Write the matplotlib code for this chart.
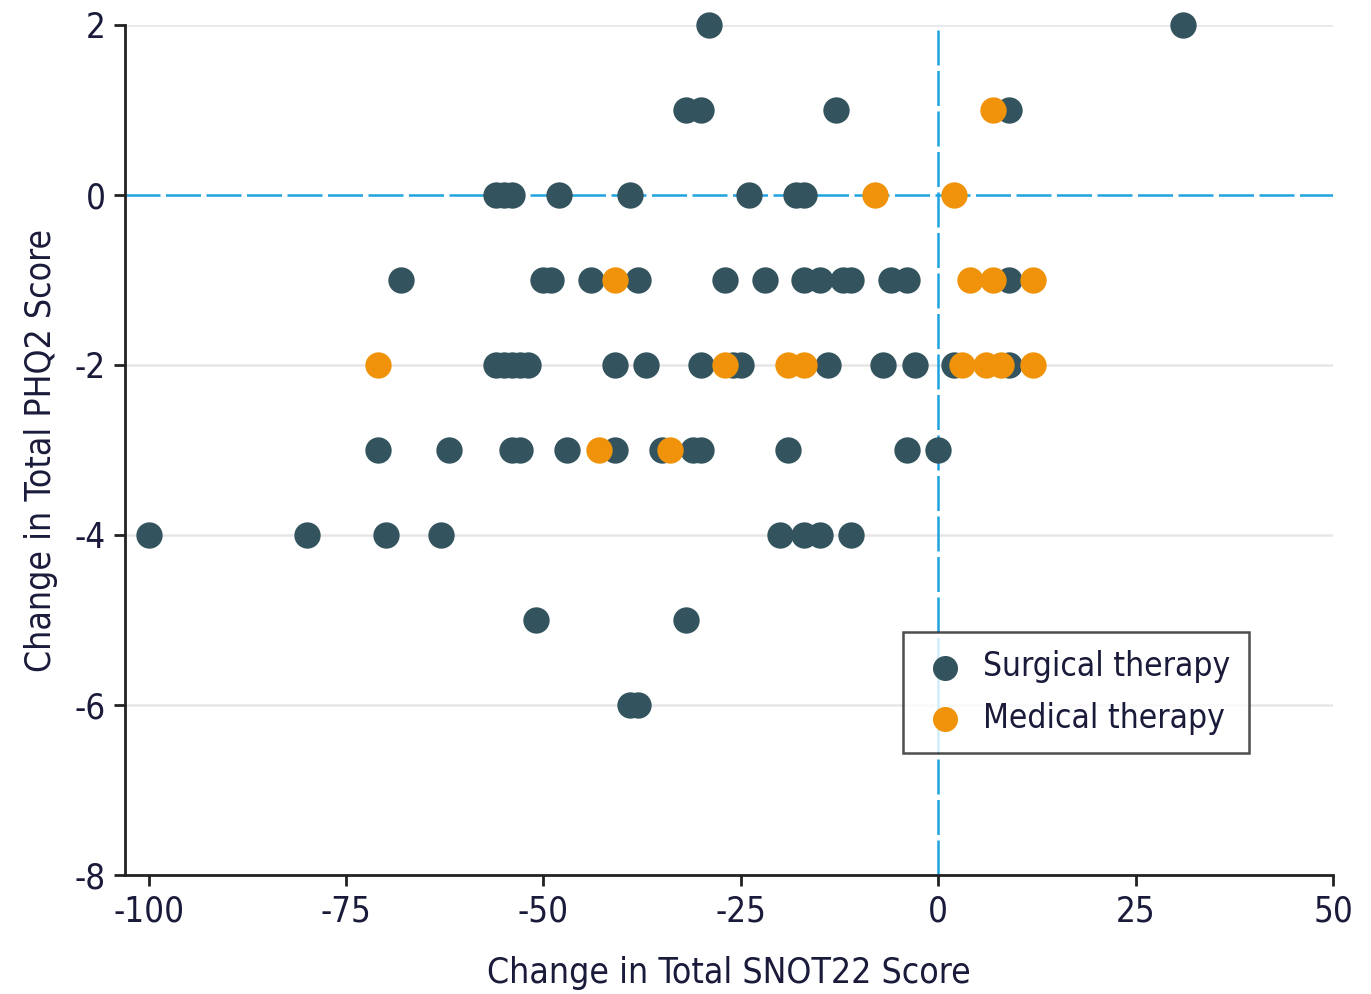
import matplotlib
matplotlib.use("Agg")
import matplotlib.pyplot as plt
from matplotlib.font_manager import fontManager

# ---- data ----
surg_x = [-29, 31,
          -32, -30, -13, 9,
          -56, -55, -54, -48, -39, -24, -18, -17,
          -68, -50, -49, -44, -38, -27, -22, -17, -15, -12, -11, -6, -4, 9,
          -56, -55, -54, -53, -52, -41, -37, -30, -26, -25, -14, -7, -3, 2, 9,
          -71, -62, -54, -53, -47, -41, -35, -31, -30, -19, -4, 0,
          -100, -80, -70, -63, -20, -17, -15, -11,
          -51, -32,
          -39, -38]
surg_y = [2, 2,
          1, 1, 1, 1,
          0, 0, 0, 0, 0, 0, 0, 0,
          -1, -1, -1, -1, -1, -1, -1, -1, -1, -1, -1, -1, -1, -1,
          -2, -2, -2, -2, -2, -2, -2, -2, -2, -2, -2, -2, -2, -2, -2,
          -3, -3, -3, -3, -3, -3, -3, -3, -3, -3, -3, -3,
          -4, -4, -4, -4, -4, -4, -4, -4,
          -5, -5,
          -6, -6]
med_x = [7,
         -8, 2,
         -41, 4, 7, 12,
         -71, -27, -19, -17, 3, 6, 8, 12,
         -43, -34]
med_y = [1,
         0, 0,
         -1, -1, -1, -1,
         -2, -2, -2, -2, -2, -2, -2, -2,
         -3, -3]
x_ticks = [-100, -75, -50, -25, 0, 25, 50]
y_ticks = [-8, -6, -4, -2, 0, 2]
x_label = "Change in Total SNOT22 Score"
y_label = "Change in Total PHQ2 Score"
labels = ["Surgical therapy", "Medical therapy"]

names = {f.name for f in fontManager.ttflist}
fam = "Liberation Sans Narrow" if "Liberation Sans Narrow" in names else "DejaVu Sans"
plt.rcParams['font.family'] = [fam, 'DejaVu Sans']
plt.rcParams['font.stretch'] = 'condensed'
plt.rcParams['axes.unicode_minus'] = False

dark = "#33545e"
orange = "#f0930a"
blue = "#1fa3e0"
txt = "#1a1a3a"

fig = plt.figure(figsize=(13.71, 9.94), dpi=100)
ax = fig.add_axes([125/1371, 1 - 875/994, (1333-125)/1371, (875-25)/994])

ax.set_xlim(-103, 50)
ax.set_ylim(-8, 2)

for yv in y_ticks:
    if yv != 0:
        ax.axhline(yv, color="#e6e6e6", lw=1.8, zorder=0)
ax.axhline(0, color=blue, lw=1.8, dashes=(14, 2.2), zorder=1)
ax.axvline(0, color=blue, lw=1.8, dashes=(14, 2.2), zorder=1)

ms = 360
ax.scatter(surg_x, surg_y, s=ms, color=dark, label=labels[0], zorder=3,
           clip_on=False, linewidths=0)
ax.scatter(med_x, med_y, s=ms, color=orange, label=labels[1], zorder=3,
           clip_on=False, linewidths=0)

ax.set_xticks(x_ticks)
ax.set_yticks(y_ticks)
ax.tick_params(axis='both', labelsize=25, length=8, width=2, colors="#222222",
               labelcolor=txt, pad=6)
for s in ["top", "right"]:
    ax.spines[s].set_visible(False)
for s in ["left", "bottom"]:
    ax.spines[s].set_linewidth(2)
    ax.spines[s].set_color("#222222")

ax.set_xlabel(x_label, fontsize=25.5, color=txt, labelpad=20)
ax.set_ylabel(y_label, fontsize=25.5, color=txt, labelpad=12)

leg = ax.legend(loc="upper left", bbox_to_anchor=((903-125)/1208, (875-632)/850),
                fontsize=24, frameon=True, fancybox=False, edgecolor="#222222",
                borderpad=0.55, handletextpad=0.45, labelspacing=0.55,
                markerscale=0.95, handlelength=1.4, borderaxespad=0)
leg.get_frame().set_linewidth(1.8)
for t in leg.get_texts():
    t.set_color(txt)

fig.savefig("out.png", dpi=100)
